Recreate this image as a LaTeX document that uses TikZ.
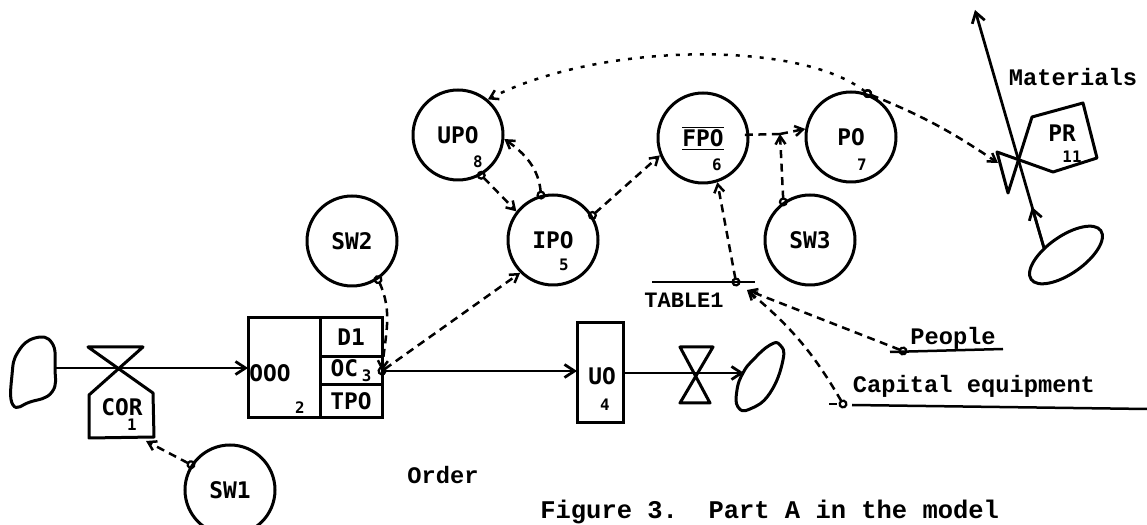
\documentclass[tikz,border=0pt]{standalone}
\usepackage{fontspec}
\usepackage{tikz}
\usetikzlibrary{arrows.meta,positioning,shapes.geometric,calc}
\newfontfamily\lblfont{DejaVu Sans Mono}
\newfontfamily\notefont{Liberation Mono}

\begin{document}
\begin{tikzpicture}[
  x=0.2mm, y=-0.2mm,
  aux/.style={circle, draw, line width=0.6mm, minimum size=18mm, inner sep=0pt, font=\lblfont\bfseries\fontsize{13}{15}\selectfont},
  stock/.style={draw, line width=0.6mm, inner sep=0pt, outer sep=0pt, font=\lblfont\bfseries\fontsize{13}{15}\selectfont},
  lbl/.style={font=\lblfont\bfseries\fontsize{13}{15}\selectfont, inner sep=0pt},
  num/.style={font=\lblfont\bfseries\fontsize{9}{10}\selectfont, inner sep=0pt},
  note/.style={font=\notefont\bfseries\fontsize{13.5}{15}\selectfont, inner sep=0pt},
  valve/.style={line width=0.6mm, line join=round},
  flow/.style={line width=0.55mm, -{Straight Barb[length=2mm,width=2.6mm]}},
  info/.style={line width=0.5mm, dash pattern=on 1.6mm off 1.1mm, -{Straight Barb[length=1.6mm,width=2mm]}},
  tap/.style={info, {Circle[open,length=1.8mm,line width=0.45mm]}-{Straight Barb[length=1.6mm,width=2mm]}, shorten <=-0.9mm}
]
\useasboundingbox (0,0) rectangle (1147,525);
\clip (0,0) rectangle (1147,525);
\draw[valve] plot[smooth cycle, tension=0.8] coordinates {(13,405) (12,375) (18,352) (35,338) (52,343) (55,368) (52,392) (30,402)};
\coordinate (src) at (55,368);
\draw[valve] (88,347) -- (143,347) -- (89,395) -- (89,438) -- (154,437) -- (153,393) -- cycle;
\node[lbl] (cor) at (122,407) {COR};
\node[num] (cornum) at (132,425) {1};
\coordinate (corbot) at (146,441);
\node[stock, minimum width=14.4mm, minimum height=20mm] (ooo) at (284,368) {};
\node[stock, minimum width=12.4mm, minimum height=7.8mm, anchor=north west] (d1) at (ooo.north east) {D1};
\node[stock, minimum width=12.4mm, minimum height=5.6mm, below=0pt of d1] (oc) {OC\,\raisebox{-0.4ex}{\fontsize{9}{10}\selectfont 3}};
\node[stock, minimum width=12.4mm, minimum height=6.6mm, below=0pt of oc] (tpo) {TPO};
\node[lbl] (ooolbl) at (270,373) {OOO};
\node[num] (ooonum) at (300,408) {2};
\node[stock, minimum width=9.2mm, minimum height=20mm] (uo) at (600,373) {};
\node[lbl] (uolbl) at (602,376) {UO};
\node[num] (uonum) at (605,405) {4};
\draw[valve] (680,347) -- (713,347) -- (680,403) -- (710,403) -- cycle;
\draw[valve] plot[smooth cycle, tension=0.8] coordinates {(737,390) (738,407) (750,409) (770,393) (783,360) (780,345) (770,345) (753,360) (743,373)};
\coordinate (snk) at (744,373);
\draw[flow] (src) -- (ooo.west);
\draw[flow] (oc.east) -- (oc.east -| uo.west);
\draw[flow] (uo.east) -- (snk);
\node[aux] (sw1) at (230,490) {SW1};
\node[aux] (sw2) at (352,241) {SW2};
\node[aux] (upo) at (458,135) {UPO};
\node[aux] (ipo) at (553,240) {IPO};
\node[aux] (fpo) at (703,138) {\underline{$\overline{\hbox{FPO}}$}};
\node[aux] (po) at (851,137) {PO};
\node[aux] (sw3) at (810,240) {SW3};
\node[num] (upnum) at (478,162) {8};
\node[num] (ipnum) at (564,265) {5};
\node[num] (fpnum) at (717,165) {6};
\node[num] (ponum) at (862,165) {7};
\coordinate (jn) at (780,134);
\draw[line width=0.5mm] (652,282) -- (755,282);
\coordinate (tbl) at (736,282);
\node[note, font=\notefont\bfseries\fontsize{12.5}{14}\selectfont] (table) at (684,300) {TABLE1};
\coordinate (tab) at (747,290);
\draw[line width=0.5mm] (890,352) -- (1003,349);
\coordinate (ppl) at (903,351);
\node[note] (people) at (953,338) {People};
\draw[line width=0.5mm] (829,404) -- (837,404);
\draw[line width=0.5mm] (852,405) -- (1147,409);
\coordinate (cap) at (843,404);
\node[note] (capital) at (974,386) {Capital equipment};
\node[draw, ellipse, line width=0.6mm, minimum width=17mm, minimum height=7.5mm, rotate=35] (matsrc) at (1066,255) {};
\coordinate (matbase) at (1044,248);
\coordinate (matmid) at (1032,207);
\coordinate (mattop) at (975,10);
\draw[flow] (matbase) -- (matmid);
\draw[flow] (matbase) -- (mattop);
\node[note] (materials) at (1073,77) {Materials};
\draw[valve] (1008,193) -- (1032,117) -- (1083,103) -- (1097,158) -- (1053,172) -- (997,152) -- cycle;
\node[lbl] (pr) at (1062,133) {PR};
\node[num] (prnum) at (1072,157) {11};
\coordinate (prin) at (998,163);
\draw[tap] (sw1.147) -- (corbot);
\draw[tap] (sw2.-56) to[out=-65,in=85] (oc.east);
\draw[tap] (oc.east) -- (ipo.225);
\draw[tap] (upo.-60) -- (ipo.142);
\draw[tap] (ipo.105) to[out=95,in=-35] (upo.-5);
\draw[tap] (ipo.32) -- (fpo.202);
\draw[tap, dash pattern=on 0.8mm off 1.6mm] (po.69) .. controls (800,40) and (600,42) .. (upo.50);
\draw[tap] (po.69) to[bend left=6] (prin);
\draw[tap, -] (fpo.4) -- (jn);
\draw[tap] (sw3.125) -- (jn);
\draw[info] (jn) -- (po.170);
\draw[tap] (tbl) -- (fpo.-72);
\draw[tap] (ppl) -- (tab);
\draw[tap] (cap) to[bend right=10] (tab);
\node[note] (order) at (443,475) {Order};
\node[note, font=\notefont\bfseries\fontsize{14.5}{16}\selectfont, anchor=base west] (caption) at (540,519) {Figure 3.\ \ Part A in the model};
\end{tikzpicture}
\end{document}
